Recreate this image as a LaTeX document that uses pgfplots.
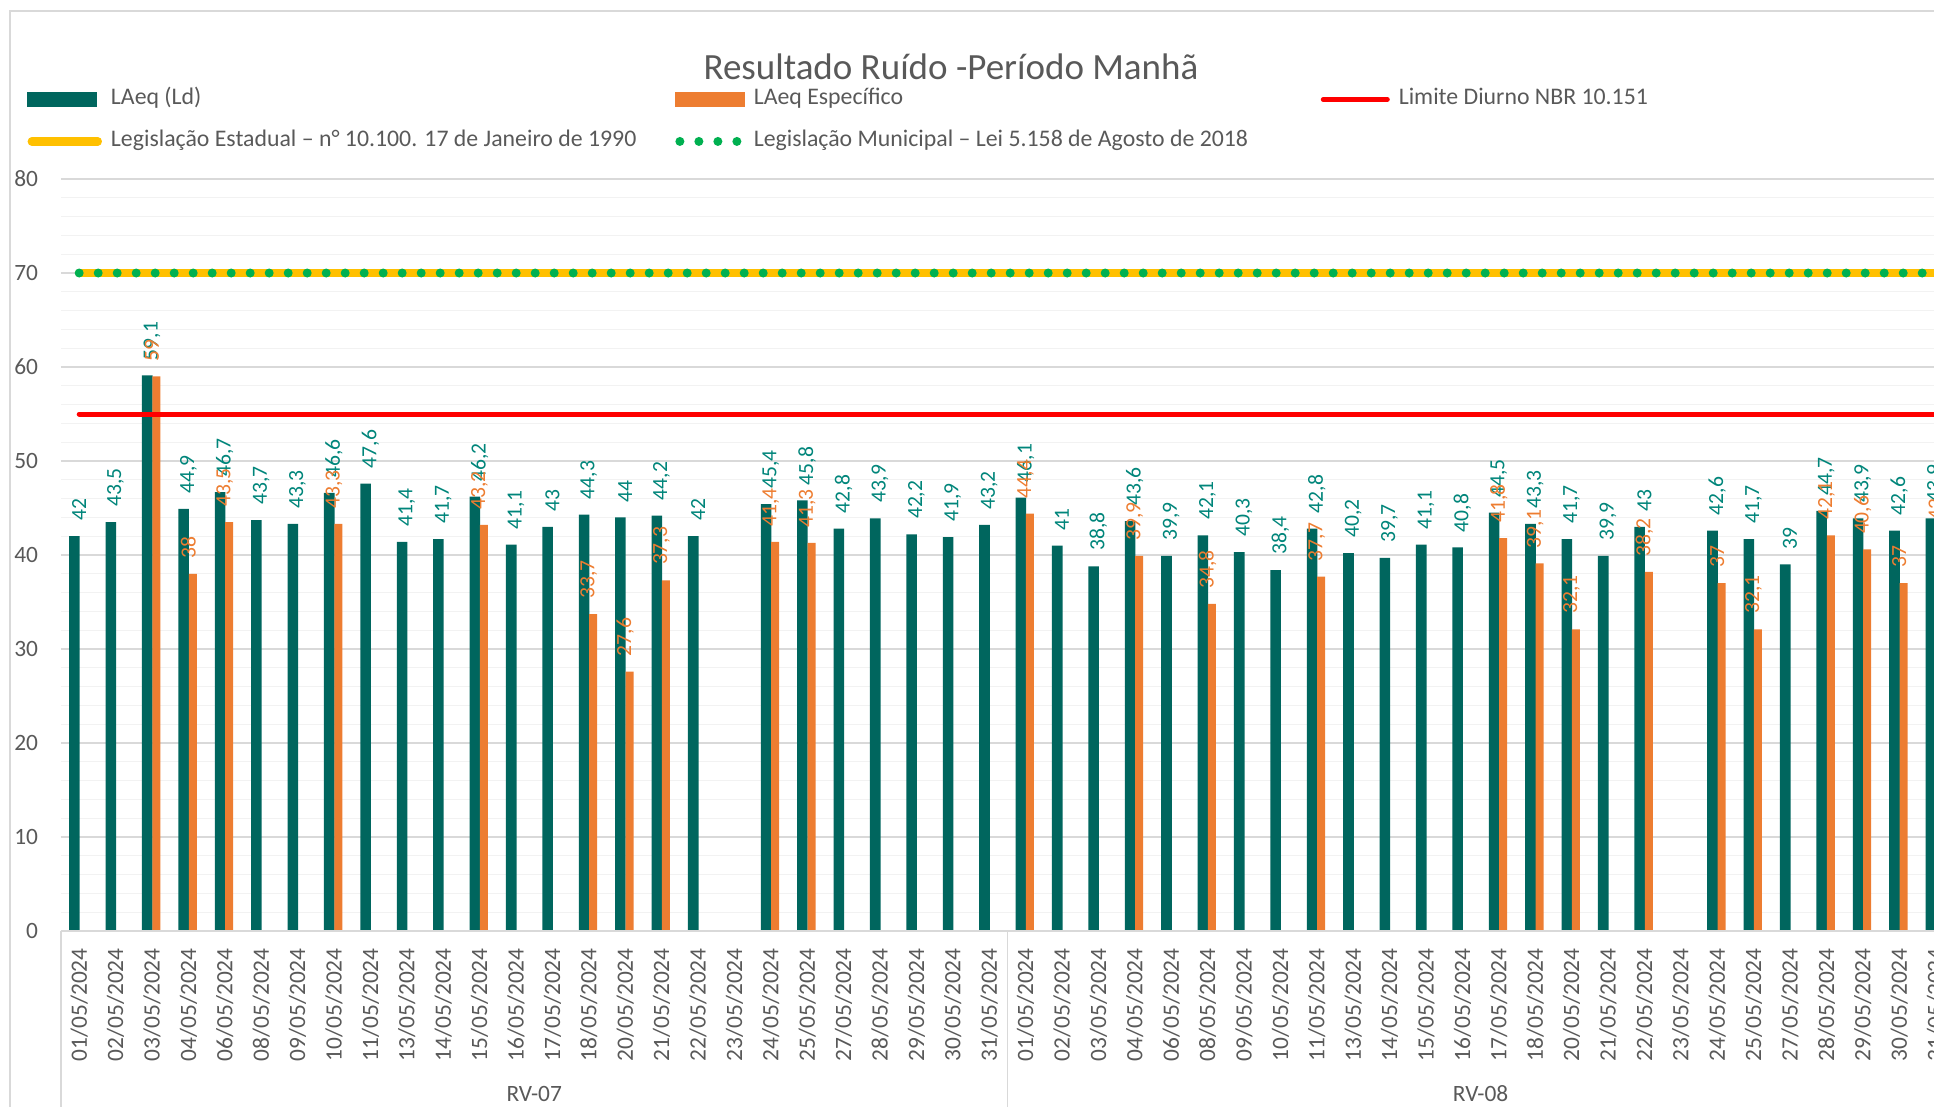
\documentclass[border=0pt]{standalone}
\usepackage{fontspec}
\setmainfont{Carlito}
\usepackage{pgfplots}
\pgfplotsset{compat=1.18}

\definecolor{barteal}{HTML}{00665E}
\definecolor{labteal}{HTML}{00857A}
\definecolor{barorange}{HTML}{ED7D31}
\definecolor{txtgray}{HTML}{595959}
\definecolor{gridmaj}{HTML}{D9D9D9}
\definecolor{gridmin}{HTML}{F2F2F2}
\definecolor{limred}{HTML}{FF0000}
\definecolor{estyellow}{HTML}{FFC000}
\definecolor{mungreen}{HTML}{00B050}

\newcommand{\lbl}{\fontsize{11.7}{14}\selectfont}

\begin{document}
\begin{tikzpicture}
\begin{axis}[
    name=ax,
    scale only axis,
    width=946.4pt, height=376pt,
    xmin=-0.5, xmax=51.5, ymin=0, ymax=80,
    clip=false,
    axis line style={draw=none},
    major tick length=0pt, minor tick length=0pt,
    ytick={0,10,...,80},
    minor ytick={2,4,6,8,12,14,16,18,22,24,26,28,32,34,36,38,42,44,46,48,52,54,56,58,62,64,66,68,72,74,76,78},
    ymajorgrids, yminorgrids,
    major grid style={gridmaj, line width=0.65pt},
    minor grid style={gridmin, line width=0.65pt},
    yticklabel style={font=\lbl, text=txtgray, anchor=east, inner xsep=11.25pt, inner ysep=0pt},
    xtick={0,...,51},
    xticklabels={01/05/2024,02/05/2024,03/05/2024,04/05/2024,06/05/2024,08/05/2024,09/05/2024,10/05/2024,11/05/2024,13/05/2024,14/05/2024,15/05/2024,16/05/2024,17/05/2024,18/05/2024,20/05/2024,21/05/2024,22/05/2024,23/05/2024,24/05/2024,25/05/2024,27/05/2024,28/05/2024,29/05/2024,30/05/2024,31/05/2024,
                 01/05/2024,02/05/2024,03/05/2024,04/05/2024,06/05/2024,08/05/2024,09/05/2024,10/05/2024,11/05/2024,13/05/2024,14/05/2024,15/05/2024,16/05/2024,17/05/2024,18/05/2024,20/05/2024,21/05/2024,22/05/2024,23/05/2024,24/05/2024,25/05/2024,27/05/2024,28/05/2024,29/05/2024,30/05/2024,31/05/2024},
    xticklabel style={font=\lbl, text=txtgray, rotate=90, anchor=east, inner xsep=8.5pt, inner ysep=0pt},
    /pgf/number format/assume math mode=true,
    /pgf/number format/use comma,
    title={Resultado Ruído -Período Manhã},
    title style={at={(axis description cs:0.4702,1.1335)}, anchor=center, font=\fontsize{18.5}{20}\selectfont, text=txtgray},
    legend columns=3,
    legend cell align=left,
    legend style={at={(axis description cs:-0.02113,1.1263)}, anchor=north west,
        draw=none, fill=none, font=\fontsize{11.9}{14}\selectfont, text=txtgray, row sep=10pt,
        nodes={inner sep=0pt, text height=8pt, text depth=3pt},
        /tikz/every odd column/.append style={column sep=4.5pt}},
]

% LAeq (Ld)
\addplot[ybar, bar width=0.29, bar shift=-0.13, fill=barteal, draw=none, forget plot,
    nodes near coords,
    every node near coord/.append style={rotate=90, anchor=west, inner xsep=7.5pt, inner ysep=0pt,
        font=\fontsize{10.8}{12}\selectfont, text=labteal}]
coordinates {
 (0,42) (1,43.5) (2,59.1) (3,44.9) (4,46.7) (5,43.7) (6,43.3) (7,46.6) (8,47.6) (9,41.4)
 (10,41.7) (11,46.2) (12,41.1) (13,43) (14,44.3) (15,44) (16,44.2) (17,42)
 (19,45.4) (20,45.8) (21,42.8) (22,43.9) (23,42.2) (24,41.9) (25,43.2)
 (26,46.1) (27,41) (28,38.8) (29,43.6) (30,39.9) (31,42.1) (32,40.3) (33,38.4) (34,42.8) (35,40.2)
 (36,39.7) (37,41.1) (38,40.8) (39,44.5) (40,43.3) (41,41.7) (42,39.9) (43,43)
 (45,42.6) (46,41.7) (47,39) (48,44.7) (49,43.9) (50,42.6) (51,43.9)
};

% LAeq Especifico
\addplot[ybar, bar width=0.22, bar shift=0.12, fill=barorange, draw=none, forget plot,
    nodes near coords,
    every node near coord/.append style={rotate=90, anchor=west, inner xsep=7.5pt, inner ysep=0pt,
        font=\fontsize{10.8}{12}\selectfont, text=barorange}]
coordinates {
 (2,59) (3,38) (4,43.5) (7,43.3) (11,43.2) (14,33.7) (15,27.6) (16,37.3) (19,41.4) (20,41.3)
 (26,44.4) (29,39.9) (31,34.8) (34,37.7) (39,41.8) (40,39.1) (41,32.1) (43,38.2)
 (45,37) (46,32.1) (48,42.1) (49,40.6) (50,37) (51,42)
};

% limits
\addplot[limred, line width=2.5pt, line cap=round, forget plot] coordinates {(0,55) (51,55)};
\addplot[estyellow, line width=4.2pt, line cap=round, forget plot] coordinates {(0,70) (51,70)};
\addplot[mungreen, line width=4.5pt, line cap=round, dash pattern=on 0pt off 9.5pt, forget plot] coordinates {(0,70) (51,70)};

\addlegendimage{legend image code/.code={\fill[barteal] (0pt,-3.4pt) rectangle (34.5pt,3.4pt);}}
\addlegendentry{\makebox[282pt][l]{LAeq (Ld)}}
\addlegendimage{legend image code/.code={\fill[barorange] (0pt,-3.4pt) rectangle (34.5pt,3.4pt);}}
\addlegendentry{\makebox[283.5pt][l]{LAeq Específico}}
\addlegendimage{legend image code/.code={\draw[limred, line width=2.5pt, line cap=round] (1.25pt,0pt) -- (33.25pt,0pt);}}
\addlegendentry{Limite Diurno NBR 10.151}
\addlegendimage{legend image code/.code={\draw[estyellow, line width=4.2pt, line cap=round] (2pt,0pt) -- (35pt,0pt);}}
\addlegendentry{Legislação Estadual – n° 10.100. 17 de Janeiro de 1990}
\addlegendimage{legend image code/.code={\draw[mungreen, line width=4.5pt, line cap=round, dash pattern=on 0pt off 9.5pt] (2.25pt,0pt) -- (32pt,0pt);}}
\addlegendentry{Legislação Municipal – Lei 5.158 de Agosto de 2018}

\node[font=\lbl, text=txtgray] at ([yshift=-81.5pt]axis cs:12.5,0) {RV-07};
\node[font=\lbl, text=txtgray] at ([yshift=-81.5pt]axis cs:38.5,0) {RV-08};
\end{axis}

% frame and category box, in pixels of the 1934x1107 picture
\begin{scope}[shift={([xshift=-30.5pt,yshift=465.5pt]ax.south west)}, x=0.5pt, y=-0.5pt]
  \draw[gridmaj, line width=0.6pt] (10,1130) -- (10,11) -- (1960,11);
  \draw[gridmaj, line width=0.6pt] (61,931) -- (1960,931);
  \draw[gridmaj, line width=0.6pt] (61,931) -- (61,1130);
  \draw[gridmaj, line width=0.6pt] (1007.4,931) -- (1007.4,1130);
  \pgfresetboundingbox
  \path (0,0) rectangle (1934,1107);
\end{scope}
\end{tikzpicture}
\end{document}
